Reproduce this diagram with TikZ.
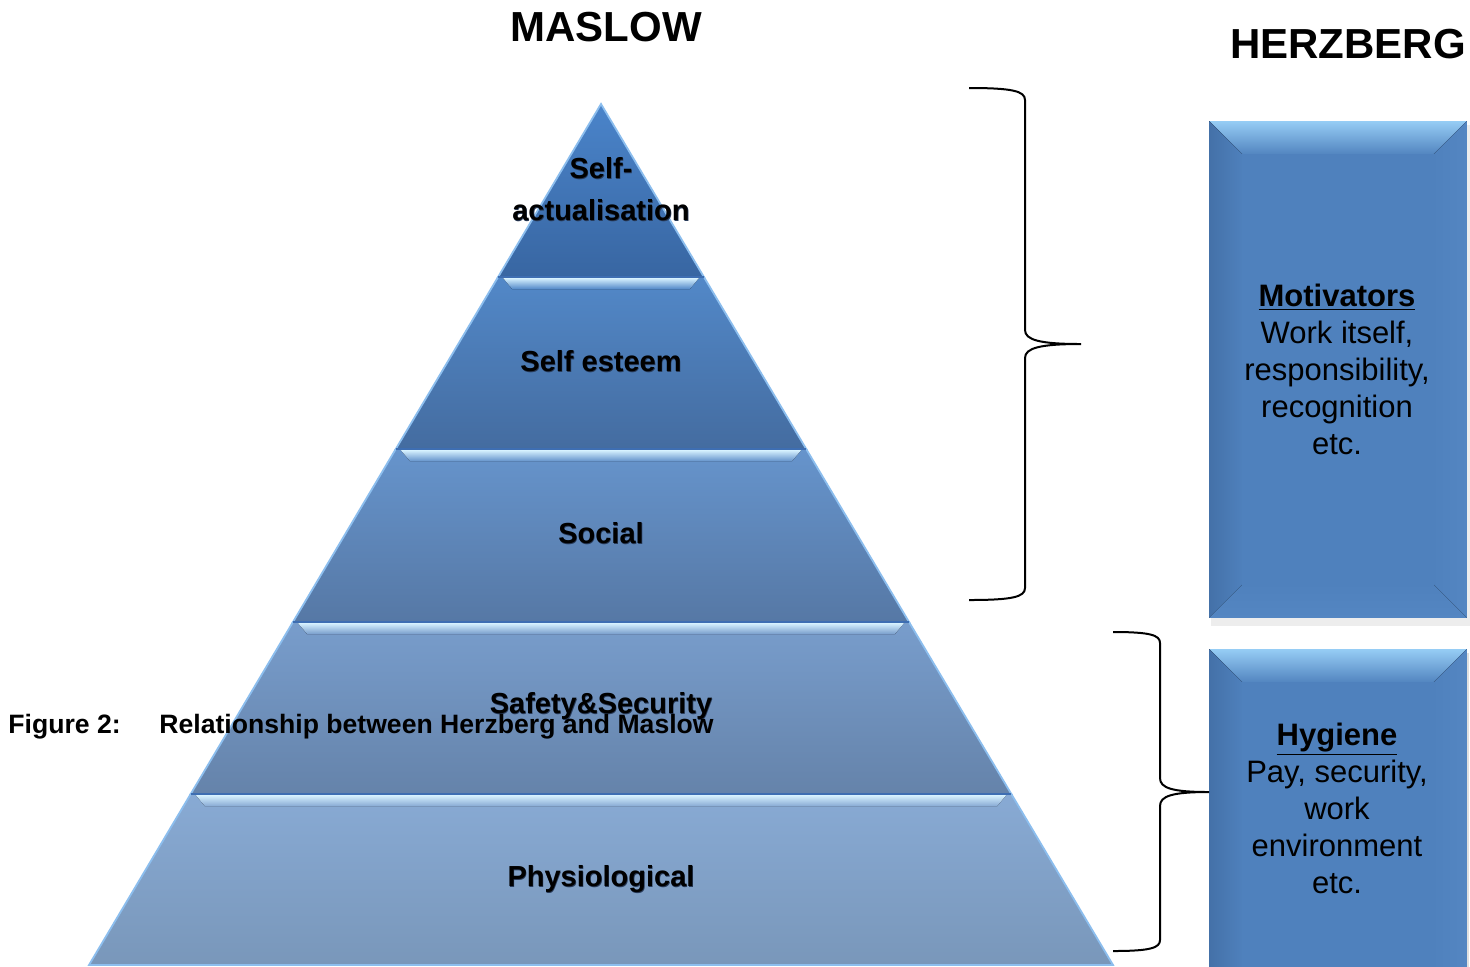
\documentclass[tikz,border=0pt]{standalone}
\usepackage{fontspec}
\setmainfont{Liberation Sans}
\usetikzlibrary{calc}
\definecolor{boxblue}{RGB}{79,129,189}
\definecolor{bevtop}{RGB}{150,205,245}
\definecolor{bevleft}{RGB}{68,113,168}
\definecolor{bevright}{RGB}{84,134,194}
\definecolor{bevbot}{RGB}{84,134,194}
\definecolor{la}{RGB}{74,132,202}
\definecolor{lab}{RGB}{56,102,162}
\definecolor{lb}{RGB}{82,136,200}
\definecolor{lbb}{RGB}{68,108,160}
\definecolor{lc}{RGB}{102,148,204}
\definecolor{lcb}{RGB}{86,120,165}
\definecolor{ld}{RGB}{120,157,204}
\definecolor{ldb}{RGB}{101,131,170}
\definecolor{le}{RGB}{136,170,212}
\definecolor{leb}{RGB}{121,151,186}
\definecolor{edgeblue}{RGB}{140,190,238}
\definecolor{seam}{RGB}{62,110,178}
\definecolor{shine}{RGB}{215,242,255}
\definecolor{txtshadow}{RGB}{40,58,88}
\newcommand\shd[1]{\leavevmode\rlap{\kern0.3pt\raisebox{-0.8pt}{\textcolor{txtshadow}{#1}}}#1}
\tikzset{
  layer/.style={draw=edgeblue, line width=0.9pt},
  lvl/.style={font=\fontsize{14.5pt}{21pt}\selectfont\bfseries, anchor=base, inner sep=0pt, align=center},
  ttl/.style={font=\fontsize{21pt}{25pt}\selectfont\bfseries, anchor=base, inner sep=0pt},
  figcap/.style={font=\fontsize{13.3pt}{15pt}\selectfont\bfseries, anchor=base west, inner sep=0pt},
  hbox/.style={fill=boxblue, draw=none, inner sep=0pt, anchor=north west},
  boxtext/.style={font=\fontsize{15.5pt}{18.5pt}\selectfont, align=center, inner sep=0pt},
  brace/.style={line width=1pt, black},
}
\newcommand\bevel[1]{%
  \fill[top color=bevtop, bottom color=boxblue] (#1.north west) -- (#1.north east) -- ($(#1.north east)+(-35,35)$) -- ($(#1.north west)+(35,35)$) -- cycle;
  \fill[left color=bevleft, right color=boxblue] (#1.north west) -- ($(#1.north west)+(35,35)$) -- ($(#1.south west)+(35,-35)$) -- (#1.south west) -- cycle;
  \fill[left color=boxblue, right color=bevright] (#1.north east) -- ($(#1.north east)+(-35,35)$) -- ($(#1.south east)+(-35,-35)$) -- (#1.south east) -- cycle;
  \fill[top color=boxblue, bottom color=bevbot] (#1.south west) -- ($(#1.south west)+(35,-35)$) -- ($(#1.south east)+(-35,-35)$) -- (#1.south east) -- cycle;
  \fill[boxblue] ($(#1.north west)+(33,33)$) rectangle ($(#1.south east)+(-33,-33)$);
}
\newcommand\stripe[4]{% y, L, R, colour below
  \fill[top color=shine, bottom color=#4] (#2+5,#1+1) -- (#3-5,#1+1) -- (#3-14,#1+12) -- (#2+14,#1+12) -- cycle;
  \draw[seam, line width=0.8pt] (#2,#1) -- (#3,#1);
}
\begin{document}
\begin{tikzpicture}[x=0.5pt,y=-0.5pt]
\clip (0,0) rectangle (1470,966);
\fill[white] (0,0) rectangle (1470,966);

% pyramid layers
\path[layer, top color=la, bottom color=lab] (601,104) -- (703.9,277) -- (498.1,277) -- cycle;
\path[layer, top color=lb, bottom color=lbb] (498.1,277) -- (703.9,277) -- (806.2,449) -- (395.8,449) -- cycle;
\path[layer, top color=lc, bottom color=lcb] (395.8,449) -- (806.2,449) -- (909,622) -- (293,622) -- cycle;
\path[layer, top color=ld, bottom color=ldb] (293,622) -- (909,622) -- (1011.3,794) -- (190.7,794) -- cycle;
\path[layer, top color=le, bottom color=leb] (190.7,794) -- (1011.3,794) -- (1113,965) -- (89,965) -- cycle;
\stripe{277}{498.1}{703.9}{lb}
\stripe{449}{395.8}{806.2}{lc}
\stripe{622}{293}{909}{ld}
\stripe{794}{190.7}{1011.3}{le}

% level labels
\node[lvl] (sa) at (601,220) {\shd{Self-}\\[0pt]\shd{actualisation}};
\node[lvl] (se) at (601,371) {\shd{Self esteem}};
\node[lvl] (so) at (601,543) {\shd{Social}};
\node[lvl] (ss) at (601,713) {\shd{Safety\&Security}};
\node[lvl] (ph) at (601,886) {\shd{Physiological}};

% caption
\node[figcap] (fig) at (8,733) {Figure 2:};
\node[figcap] (rel) at (159,733) {Relationship between Herzberg and Maslow};

% titles
\node[ttl] (maslow) at (606,41) {MASLOW};
\node[ttl] (herz) at (1348,58) {HERZBERG};

% Herzberg boxes
\fill[black!12] (1211,125) rectangle (1469,623);
\fill[black!7] (1211,125) rectangle (1470,626);
\node[hbox, minimum width=128.5pt, minimum height=248pt] (mot) at (1209,121) {};
\bevel{mot}
\fill[black!12] (1211,653) rectangle (1469,1020);
\node[hbox, minimum width=128.5pt, minimum height=180pt] (hyg) at (1209,649) {};
\bevel{hyg}
\node[boxtext] (mott) at (1337,369) {\textbf{\underline{Motivators}}\\Work itself,\\responsibility,\\recognition\\etc.};
\node[boxtext] (hygt) at (1337,808) {\textbf{\underline{Hygiene}}\\Pay, security,\\work\\environment\\etc.};

% braces
\coordinate (b1t) at (969,88);
\coordinate (b1tip) at (1081,344);
\coordinate (b1b) at (969,600);
\draw[brace] (b1t) .. controls (1012,88) and (1025,91) .. (1025,100) -- (1025,330)
  .. controls (1025,340) and (1040,344) .. (b1tip)
  .. controls (1040,344) and (1025,348) .. (1025,358) -- (1025,588)
  .. controls (1025,597) and (1012,600) .. (b1b);
\coordinate (b2t) at (1113,632);
\coordinate (b2b) at (1113,951);
\coordinate (b2tip) at (1209,792);
\draw[brace] (b2t) .. controls (1150,632) and (1160,635) .. (1160,643) -- (1160,778)
  .. controls (1160,788) and (1172,792) .. (b2tip)
  .. controls (1172,792) and (1160,796) .. (1160,806) -- (1160,940)
  .. controls (1160,948) and (1150,951) .. (b2b);
\end{tikzpicture}
\end{document}
